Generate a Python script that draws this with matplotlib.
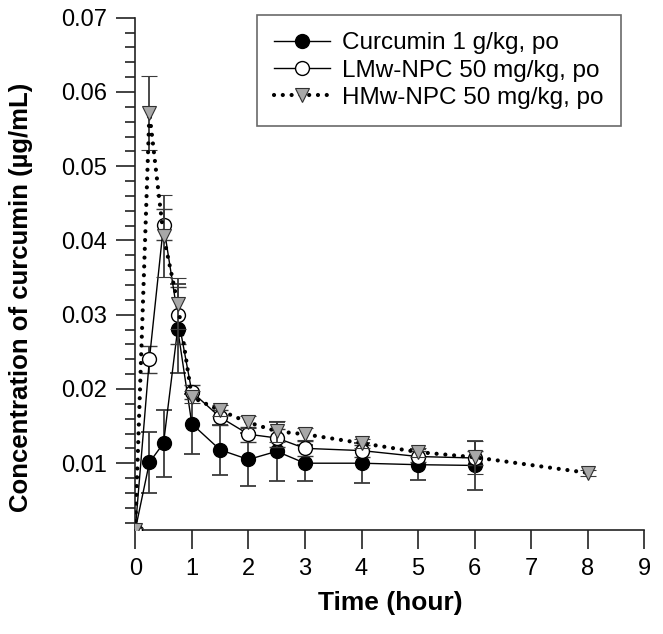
import matplotlib.pyplot as plt
import numpy as np

# Time points (hours)
t_cur = [0, 0.25, 0.5, 0.75, 1, 1.5, 2, 2.5, 3, 4, 5, 6]
t_hmw = [0, 0.25, 0.5, 0.75, 1, 1.5, 2, 2.5, 3, 4, 5, 6, 8]

# Curcumin 1 g/kg, po
cur = [0.001, 0.0101, 0.0127, 0.0281, 0.0153, 0.0118, 0.0105, 0.0116, 0.0100, 0.0100, 0.0098, 0.0097]
cur_err = [0.0003, 0.0041, 0.0045, 0.0060, 0.0040, 0.0034, 0.0036, 0.0040, 0.0024, 0.0027, 0.0021, 0.0033]

# LMw-NPC 50 mg/kg, po
lmw = [0.001, 0.0240, 0.0421, 0.0299, 0.0196, 0.0162, 0.0139, 0.0134, 0.0120, 0.0117, 0.0109, 0.0107]
lmw_err = [0.0003, 0.0018, 0.0021, 0.0039, 0.0010, 0.0010, 0.0010, 0.0012, 0.0010, 0.0008, 0.0008, 0.0010]

# HMw-NPC 50 mg/kg, po
hmw = [0.001, 0.0572, 0.0406, 0.0315, 0.0189, 0.0171, 0.0155, 0.0143, 0.0139, 0.0127, 0.0115, 0.0108, 0.0087]
hmw_err = [0.0003, 0.0050, 0.0055, 0.0034, 0.0008, 0.0008, 0.0008, 0.0014, 0.0008, 0.0006, 0.0006, 0.0022, 0.0004]

labels = ['Curcumin 1 g/kg, po', 'LMw-NPC 50 mg/kg, po', 'HMw-NPC 50 mg/kg, po']

plt.rcParams['font.family'] = ['Liberation Sans', 'DejaVu Sans']

fig = plt.figure(figsize=(6.63, 6.34), dpi=100)
ax = fig.add_axes([0.204, 0.164, 0.768, 0.808])

ebar = dict(ecolor='#3a3a3a', elinewidth=1.3, capsize=6, capthick=1.3)

e1 = ax.errorbar(t_cur, cur, yerr=cur_err, color='black', lw=1.0, marker='o',
                 ms=10, mfc='black', mec='black', zorder=3, **ebar)
e2 = ax.errorbar(t_cur, lmw, yerr=lmw_err, color='black', lw=1.0, marker='o',
                 ms=10, mfc='white', mec='black', mew=1.0, zorder=4, **ebar)
e3 = ax.errorbar(t_hmw, hmw, yerr=hmw_err, color='black', lw=3.0, ls=(0, (0.01, 2.1)),
                 dash_capstyle='round', marker='v', ms=10, mfc='#a8a8a8', mec='#303030',
                 mew=0.8, zorder=5, **ebar)

ax.set_xlim(0, 9)
ax.set_ylim(0.001, 0.07)
ax.set_xticks(np.arange(0, 10, 1))
ax.set_yticks([0.01, 0.02, 0.03, 0.04, 0.05, 0.06, 0.07])
ax.set_yticklabels(['0.01', '0.02', '0.03', '0.04', '0.05', '0.06', '0.07'])
ax.set_yticks(np.arange(0.002, 0.0701, 0.002), minor=True)

for s in ['top', 'right']:
    ax.spines[s].set_visible(False)
for s in ['left', 'bottom']:
    ax.spines[s].set_linewidth(1.2)
    ax.spines[s].set_color('#222222')

ax.tick_params(axis='both', which='major', direction='out', length=14, width=1.2,
               labelsize=17, color='#222222', pad=6)
ax.tick_params(axis='y', which='minor', direction='out', length=7, width=1.2, color='#222222')

ax.set_xlabel('Time (hour)', fontsize=19, fontweight='bold', labelpad=8)
ax.set_ylabel('Concentration of curcumin (µg/mL)', fontsize=18.5, fontweight='bold')
ax.yaxis.set_label_coords(-0.2, 0.455)

leg = fig.legend([e1[0], e2[0], e3[0]], labels, loc='upper left',
                 bbox_to_anchor=(0.388, 0.976), fontsize=17.5, frameon=True,
                 fancybox=False, edgecolor='#444444', handlelength=2.3, handletextpad=0.5,
                 borderpad=0.7, labelspacing=0.22, borderaxespad=0)
leg.get_frame().set_linewidth(1.2)

plt.savefig('out.png', dpi=100)
